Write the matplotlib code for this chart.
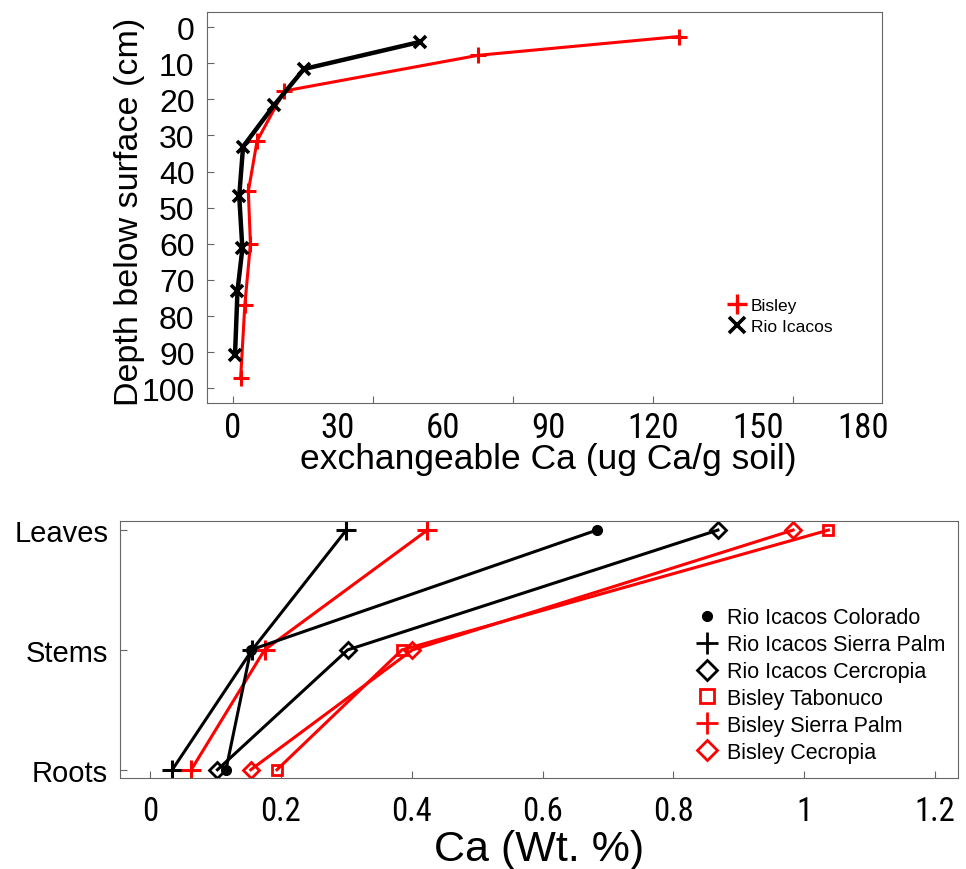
import matplotlib
matplotlib.use("Agg")
import matplotlib.pyplot as plt
from matplotlib import font_manager
from matplotlib.lines import Line2D

# exchangeable Ca in soil profiles
bisley_ca = [127.4, 70.1, 14.6, 6.9, 4.4, 5.0, 3.4, 2.2]
bisley_depth = [2.6, 7.8, 17.7, 31.5, 45.5, 60.0, 77.0, 97.2]
icacos_ca = [53.4, 20.3, 11.7, 2.9, 1.8, 2.7, 1.3, 0.6]
icacos_depth = [4.1, 11.6, 21.7, 33.1, 46.8, 61.3, 73.1, 90.7]

# Ca in plant tissue (Wt. %), order roots, stems, leaves
tissues = ["Roots", "Stems", "Leaves"]
icacos_colorado = [0.116, 0.154, 0.683]
icacos_sierra_palm = [0.034, 0.156, 0.300]
icacos_cercropia = [0.103, 0.302, 0.868]
bisley_tabonuco = [0.194, 0.385, 1.037]
bisley_sierra_palm = [0.063, 0.175, 0.424]
bisley_cecropia = [0.154, 0.401, 0.983]


def pick_font(names):
    for name in names:
        try:
            font_manager.findfont(name, fallback_to_default=False)
            return name
        except ValueError:
            pass
    return "DejaVu Sans"


regular = pick_font(["Liberation Sans", "Arial"])
narrow = pick_font(["Liberation Sans Narrow", "Roboto Condensed", "Liberation Sans"])
plt.rcParams['font.family'] = regular

fig = plt.figure(figsize=(9.66, 8.7), dpi=100)
spine_col = "0.4"

# ---- top: soil profile ----
ax1 = fig.add_axes([0.2143, 0.5356, 0.6988, 0.4491])
ax1.plot(bisley_ca, bisley_depth, color="red", lw=2.2, marker="+", ms=11, mew=2.2)
ax1.plot(icacos_ca, icacos_depth, color="black", lw=3.2, marker="x", ms=9, mew=2.6)
ax1.set_xlim(-7.4, 185.4)
ax1.set_ylim(104.1, -4.1)
ax1.set_yticks(range(0, 101, 10))
ax1.set_yticklabels([str(v) for v in range(0, 101, 10)], fontsize=23)
# tick marks and labels do not line up in the original
ax1.xaxis.remove_overlapping_locs = False
ax1.set_xticks(range(0, 161, 40))
ax1.set_xticklabels([])
ax1.set_xticks(range(0, 181, 30), minor=True)
ax1.set_xticklabels([str(v) for v in range(0, 181, 30)], minor=True,
                    fontsize=25, family=narrow)
ax1.tick_params(axis="x", which="minor", length=0, pad=6)
ax1.tick_params(axis="both", which="major", direction="in", length=5,
                color=spine_col, pad=9)
ax1.set_xlabel("exchangeable Ca (ug Ca/g soil)", fontsize=25.5)
ax1.xaxis.set_label_coords(0.506, -0.1)
ax1.set_ylabel("Depth below surface (cm)", fontsize=24.5)
ax1.yaxis.set_label_coords(-0.092, 0.493)
for s in ax1.spines.values():
    s.set_color(spine_col)

h1 = [Line2D([], [], color="red", marker="+", ls="none", ms=15, mew=2.4),
      Line2D([], [], color="black", marker="x", ms=11, ls="none", mew=2.6)]
ax1.legend(h1, ["Bisley", "Rio Icacos"], loc="upper left",
           bbox_to_anchor=(0.761, 0.292), frameon=False, fontsize=12.5,
           handlelength=0.9, handletextpad=0.35, labelspacing=0.33, borderpad=0)

# ---- bottom: plant tissue ----
ax2 = fig.add_axes([0.1242, 0.1042, 0.8675, 0.2961])
ypos = list(range(len(tissues)))
ax2.plot(icacos_sierra_palm, ypos, color="black", lw=2.2, marker="+", ms=14, mew=2.2)
ax2.plot(bisley_sierra_palm, ypos, color="red", lw=2.2, marker="+", ms=14, mew=2.2)
ax2.plot(icacos_colorado, ypos, color="black", lw=2.2, marker="o", ms=7)
ax2.plot(icacos_cercropia, ypos, color="black", lw=2.2, marker="D", ms=8,
         mfc="none", mew=2)
ax2.plot(bisley_cecropia, ypos, color="red", lw=2.2, marker="D", ms=8,
         mfc="none", mew=2)
ax2.plot(bisley_tabonuco, ypos, color="red", lw=2.2, marker="s", ms=7,
         mfc="none", mew=2)
ax2.set_xlim(-0.046, 1.235)
ax2.set_ylim(-0.072, 2.078)
ax2.set_yticks(ypos)
ax2.set_yticklabels(tissues, fontsize=21)
xt = [0, 0.2, 0.4, 0.6, 0.8, 1.0, 1.2]
ax2.set_xticks(xt)
ax2.set_xticklabels(["0", "0.2", "0.4", "0.6", "0.8", "1", "1.2"], fontsize=23.5, family=narrow)
ax2.tick_params(axis="both", direction="in", length=5, color=spine_col)
ax2.tick_params(axis="x", pad=12)
ax2.tick_params(axis="y", pad=8.5)
ax2.set_xlabel("Ca (Wt. %)", fontsize=31)
ax2.xaxis.set_label_coords(0.5, -0.195)
for s in ax2.spines.values():
    s.set_color(spine_col)

h2 = [Line2D([], [], color="black", marker="o", ls="none", ms=7),
      Line2D([], [], color="black", marker="+", ls="none", ms=16, mew=2),
      Line2D([], [], color="black", marker="D", ls="none", ms=10, mfc="none", mew=2),
      Line2D([], [], color="red", marker="s", ls="none", ms=10, mfc="none", mew=2),
      Line2D([], [], color="red", marker="+", ls="none", ms=16, mew=2),
      Line2D([], [], color="red", marker="D", ls="none", ms=10, mfc="none", mew=2)]
ax2.legend(h2, ["Rio Icacos Colorado", "Rio Icacos Sierra Palm", "Rio Icacos Cercropia",
                "Bisley Tabonuco", "Bisley Sierra Palm", "Bisley Cecropia"],
           loc="upper left", bbox_to_anchor=(0.675, 0.705), frameon=False,
           fontsize=15.5, handlelength=1.0, handletextpad=0.4, labelspacing=0.27,
           borderpad=0)

fig.savefig("out.png", dpi=100)
